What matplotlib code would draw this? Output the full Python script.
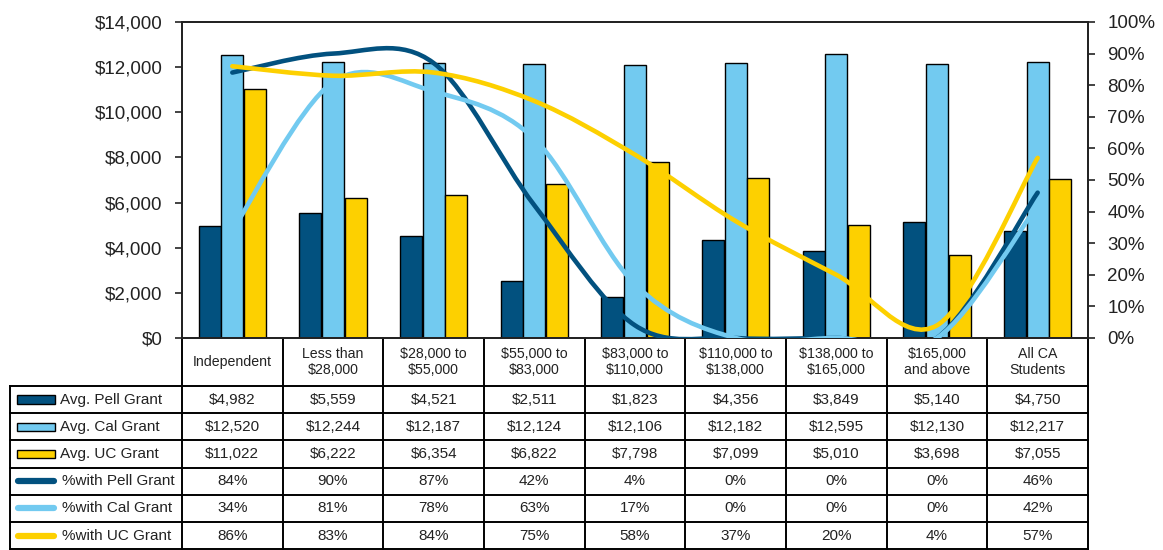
import numpy as np
import matplotlib
matplotlib.use("Agg")
import matplotlib.pyplot as plt
from matplotlib.path import Path
from matplotlib.patches import PathPatch, Rectangle
from matplotlib.lines import Line2D
from matplotlib.ticker import FuncFormatter

plt.rcParams['font.family'] = ['Liberation Sans', 'DejaVu Sans']

# --- data ---
categories = ['Independent', 'Less than\n$28,000', '$28,000 to\n$55,000', '$55,000 to\n$83,000',
              '$83,000 to\n$110,000', '$110,000 to\n$138,000', '$138,000 to\n$165,000',
              '$165,000\nand above', 'All CA\nStudents']
pell_avg = [4982, 5559, 4521, 2511, 1823, 4356, 3849, 5140, 4750]
cal_avg = [12520, 12244, 12187, 12124, 12106, 12182, 12595, 12130, 12217]
uc_avg = [11022, 6222, 6354, 6822, 7798, 7099, 5010, 3698, 7055]
pell_pct = [84, 90, 87, 42, 4, 0, 0, 0, 46]
cal_pct = [34, 81, 78, 63, 17, 0, 0, 0, 42]
uc_pct = [86, 83, 84, 75, 58, 37, 20, 4, 57]

bar_labels = ['Avg. Pell Grant', 'Avg. Cal Grant', 'Avg. UC Grant']
line_labels = ['%with Pell Grant', '%with Cal Grant', '%with UC Grant']

DARK = '#02517f'
LIGHT = '#72caf0'
YELLOW = '#fdd000'
colors = [DARK, LIGHT, YELLOW]


def smooth_path(xs, ys, t=1/6):
    # Excel-like smoothed line: cubic bezier through every point
    pts = np.column_stack([xs, ys]).astype(float)
    n = len(pts)
    verts = [pts[0]]
    codes = [Path.MOVETO]
    for i in range(n - 1):
        p0 = pts[max(i - 1, 0)]
        p1 = pts[i]
        p2 = pts[i + 1]
        p3 = pts[min(i + 2, n - 1)]
        c1 = p1 + (p2 - p0) * t
        c2 = p2 - (p3 - p1) * t
        verts += [c1, c2, p2]
        codes += [Path.CURVE4] * 3
    return Path(verts, codes)


fig = plt.figure(figsize=(11.63, 5.5), dpi=100)
ax = fig.add_axes([182 / 1163, 1 - 338 / 550, 906 / 1163, 316 / 550])

x = np.arange(len(categories))
w = 0.22
off = 0.225
for k, vals in enumerate([pell_avg, cal_avg, uc_avg]):
    ax.bar(x + (k - 1) * off, vals, w, color=colors[k], edgecolor='black', linewidth=1.0, zorder=2)

ax.set_xlim(-0.5, len(categories) - 0.5)
ax.set_ylim(0, 14000)
ax.set_yticks(np.arange(0, 14001, 2000))
ax.yaxis.set_major_formatter(FuncFormatter(lambda v, p: f'${v:,.0f}'))
ax.set_xticks([])
ax.tick_params(axis='y', direction='out', length=5, width=1.2, pad=9, labelsize=13.5, colors='#222222')
for s in ax.spines.values():
    s.set_linewidth(1.3)
    s.set_color('#222222')

ax2 = ax.twinx()
ax2.set_ylim(0, 1)
ax2.set_yticks(np.arange(0, 1.01, 0.1))
ax2.yaxis.set_major_formatter(FuncFormatter(lambda v, p: f'{v * 100:.0f}%'))
ax2.tick_params(axis='y', direction='out', length=5, width=1.2, pad=9, labelsize=13.5, colors='#222222')
for s in ax2.spines.values():
    s.set_linewidth(1.3)
    s.set_color('#222222')

for k, vals in enumerate([pell_pct, cal_pct, uc_pct]):
    path = smooth_path(x, np.array(vals) / 100)
    ax2.add_patch(PathPatch(path, facecolor='none', edgecolor=colors[k], linewidth=3.3,
                            capstyle='round', joinstyle='round', zorder=3))
ax2.set_xlim(-0.5, len(categories) - 0.5)

# --- data table under the chart ---
tr = ax.get_xaxis_transform()
HEADER_H = 48 / 316
ROW_H = 27.2 / 316
LABEL_LEFT = -2.21
n = len(categories)
lw = 1.4


def hline(y, x0, x1):
    ax.add_line(Line2D([x0, x1], [y, y], transform=tr, color='black', lw=lw, clip_on=False))


def vline(xv, y0, y1):
    ax.add_line(Line2D([xv, xv], [y0, y1], transform=tr, color='black', lw=lw, clip_on=False))


y_head_bot = -HEADER_H
rows = [pell_avg, cal_avg, uc_avg, pell_pct, cal_pct, uc_pct]
y_bottom = y_head_bot - ROW_H * len(rows)

# header row
for i, lab in enumerate(categories):
    ax.text(i, -HEADER_H / 2, lab, transform=tr, ha='center', va='center', fontsize=10.2,
            linespacing=1.15, color='#222222', clip_on=False)
for b in np.arange(-0.5, n, 1.0):
    vline(b, 0, y_bottom)
vline(LABEL_LEFT, y_head_bot, y_bottom)
hline(y_head_bot, LABEL_LEFT, n - 0.5)

for r, vals in enumerate(rows):
    yt = y_head_bot - r * ROW_H
    yc = yt - ROW_H / 2
    hline(yt - ROW_H, LABEL_LEFT, n - 0.5)
    for i, v in enumerate(vals):
        s = f'${v:,}' if r < 3 else f'{v}%'
        ax.text(i, yc, s, transform=tr, ha='center', va='center', fontsize=11,
                color='#222222', clip_on=False)
    # legend key + row label
    if r < 3:
        ax.add_patch(Rectangle((-2.14, yc - 0.013), 0.38, 0.026, transform=tr, facecolor=colors[r],
                               edgecolor='black', linewidth=1.0, clip_on=False))
        lab = bar_labels[r]
        tx = -1.71
    else:
        ax.add_line(Line2D([-2.13, -1.77], [yc, yc], transform=tr, color=colors[r - 3], lw=4.5,
                           solid_capstyle='round', clip_on=False))
        lab = line_labels[r - 3]
        tx = -1.69
    ax.text(tx, yc, lab, transform=tr, ha='left', va='center', fontsize=11,
            color='#222222', clip_on=False)

fig.savefig('out.png', dpi=100)
